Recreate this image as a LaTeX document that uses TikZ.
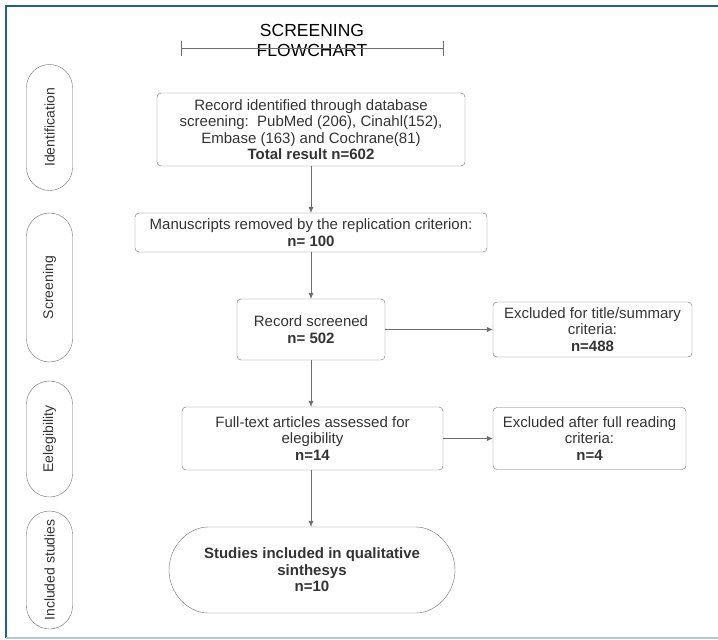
\documentclass[tikz,border=0pt]{standalone}
\usepackage{fontspec}
\setmainfont{Liberation Sans}
\usetikzlibrary{shapes.misc,arrows.meta}
\definecolor{sininen}{HTML}{1F5F99}
\definecolor{harmaa1}{HTML}{B8C6CE}
\definecolor{harmaa2}{HTML}{6E6E6E}
\definecolor{tumma}{HTML}{333333}

\tikzset{
  laatikko/.style={draw=harmaa2, rounded corners=4pt, align=center, text=tumma,
    inner sep=0pt, font=\fontsize{15}{16.5}\selectfont},
  vaihe/.style={draw=harmaa2, rounded rectangle, rotate=90, minimum height=46pt,
    inner sep=0pt, text=tumma, font=\fontsize{14}{16}\selectfont},
  nuoli/.style={draw=harmaa2, -{Latex[length=6pt,width=5pt]}}
}

\begin{document}
\begin{tikzpicture}[x=1pt, y=-1pt]
  \useasboundingbox (0,0) rectangle (718,640);
  % kehys
  \draw[sininen, line width=2pt] (718,6) -- (6,6) -- (6,638);
  \draw[harmaa1, line width=1.5pt] (6,638) -- (718,638);

  % otsikko
  \node[text=black, align=center, font=\fontsize{17.5}{20}\selectfont] (otsikko) at (312,40) {SCREENING\\FLOWCHART};
  \coordinate (palkki1) at (181,48);
  \coordinate (palkki2) at (443,48);
  \draw[harmaa2, {Bar[width=15pt]}-{Bar[width=15pt]}] (palkki1) -- (palkki2);

  % vaiheet
  \node[vaihe, minimum width=126pt] (tunnistus) at (49.5,127.5) {Identification};
  \node[vaihe, minimum width=149pt] (seulonta) at (49.5,287.5) {Screening};
  \node[vaihe, minimum width=116pt] (kelpoisuus) at (49.5,439) {Eelegibility};
  \node[vaihe, minimum width=118pt] (mukana) at (49.5,570) {Included studies};

  % laatikot
  \node[laatikko, minimum width=308pt, minimum height=73pt] (haku) at (311,129.5)
    {Record identified through database\\screening:\ \ PubMed (206), Cinahl(152),\\Embase (163) and Cochrane(81)\\\textbf{Total result n=602}};
  \node[laatikko, minimum width=352pt, minimum height=39pt] (poisto) at (311,232.5)
    {Manuscripts removed by the replication criterion:\\\textbf{n= 100}};
  \node[laatikko, minimum width=148pt, minimum height=61pt] (seulottu) at (311,329.5)
    {Record screened\\\textbf{n= 502}};
  \node[laatikko, minimum width=199pt, minimum height=55pt] (hylatty1) at (592.5,329.5)
    {Excluded for title/summary\\criteria:\\\textbf{n=488}};
  \node[laatikko, minimum width=261pt, minimum height=63pt] (kokoteksti) at (312.5,438.5)
    {Full-text articles assessed for\\elegibility\\\textbf{n=14}};
  \node[laatikko, minimum width=193pt, minimum height=62pt] (hylatty2) at (589.5,438.5)
    {Excluded after full reading\\criteria:\\\textbf{n=4}};
  \node[laatikko, rounded rectangle, minimum width=286pt, minimum height=86pt] (tulos) at (312,570)
    {\textbf{Studies included in qualitative}\\\textbf{sinthesys}\\\textbf{n=10}};

  % nuolet
  \draw[nuoli] (haku) -- (poisto);
  \draw[nuoli] (poisto) -- (seulottu);
  \draw[nuoli] (seulottu) -- (seulottu |- kokoteksti.north);
  \draw[nuoli] (seulottu |- kokoteksti.south) -- (seulottu |- tulos.north);
  \draw[nuoli] (seulottu) -- (hylatty1);
  \draw[nuoli] (kokoteksti) -- (hylatty2);
\end{tikzpicture}
\end{document}
